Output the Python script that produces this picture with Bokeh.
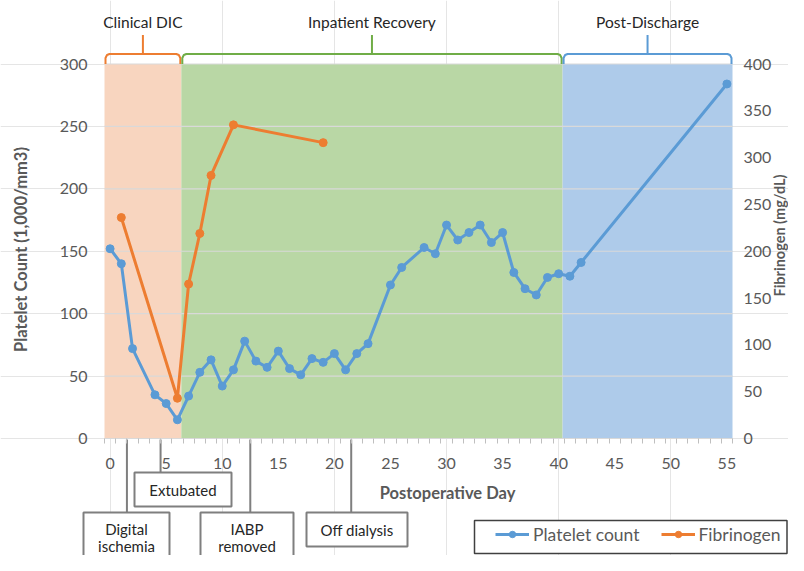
import math
from bokeh.plotting import figure
from bokeh.models import (Range1d, LinearAxis, FixedTicker, Legend, LegendItem)
from bokeh.core.properties import value
from bokeh.embed import file_html
from bokeh.resources import INLINE

# ---------------- data ----------------
plt_days = [0, 1, 2, 4, 5, 6, 7, 8, 9, 10, 11, 12, 13, 14, 15, 16, 17, 18, 19, 20, 21, 22, 23,
            25, 26, 28, 29, 30, 31, 32, 33, 34, 35, 36, 37, 38, 39, 40, 41, 42, 55]
plt_vals = [152, 140, 72, 35, 28, 15, 34, 53, 63, 42, 55, 78, 62, 57, 70, 56, 51, 64, 61, 68, 55, 68, 76,
            123, 137, 153, 148, 171, 159, 165, 171, 157, 165, 133, 120, 115, 129, 132, 130, 141, 284]
fib_days = [1, 6, 7, 8, 9, 11, 19]
fib_vals = [236, 43, 165, 219, 281, 335, 316]

phase_names = ["Clinical DIC", "Inpatient Recovery", "Post-Discharge"]
phase_start = [-0.5, 6.35, 40.35]
phase_end = [6.35, 40.35, 55.5]

event_names = [["Digital", "ischemia"], ["Extubated"], ["IABP", "removed"], ["Off dialysis"]]
event_days = [1.5, 4.5, 12.5, 21.5]

x_ticks = [0, 5, 10, 15, 20, 25, 30, 35, 40, 45, 50, 55]
x_minor = [d - 0.5 for d in range(0, 57)]
y_ticks = [0, 50, 100, 150, 200, 250, 300]
fib_ticks = [0, 50, 100, 150, 200, 250, 300, 350, 400]

# ---------------- styles / layout ----------------
FONT = "Lato"
C_BLUE = "#5b9bd5"
C_ORANGE = "#ed7d31"
C_GREEN = "#70ad47"
SHADE = ["#f8d5bf", "#b9d7a5", "#aecbea"]
BRACKET = [C_ORANGE, C_GREEN, C_BLUE]
GRAY_TXT = "#595959"
DARK_TXT = "#262626"
BOX_GRAY = "#7f7f7f"

W, H = 788, 555
X_LO, X_HI = -0.5, 55.5
Y_LO, Y_HI = 0, 300
PL, PR = 104.0, 732.0     # plot area left/right (px)
PT, PB = 63.5, 438.0      # plot area top/bottom (px from top)

sx = (PR - PL) / (X_HI - X_LO)
sy = (PB - PT) / (Y_HI - Y_LO)
x_start = X_LO - PL / sx
x_end = X_HI + (W - PR) / sx
y_start = Y_LO - (H - PB) / sy
y_end = Y_HI + PT / sy


def dx(px):
    return x_start + px / sx


def dy(py):
    return y_end - py / sy


def px_of(d):
    return (d - x_start) * sx


p = figure(width=W, height=H, output_backend="svg", toolbar_location=None,
           x_axis_location=None, y_axis_location=None,
           x_range=Range1d(x_start, x_end), y_range=Range1d(y_start, y_end),
           min_border=0, min_border_left=0, min_border_right=0,
           min_border_top=0, min_border_bottom=0)
p.outline_line_color = None
p.background_fill_color = "white"
p.border_fill_color = "white"
p.extra_y_ranges = {"fib": Range1d(y_start * 4 / 3, y_end * 4 / 3)}

# shaded phases
p.quad(left=phase_start, right=phase_end, bottom=[Y_LO] * 3, top=[Y_HI] * 3,
       fill_color=SHADE, line_color=None)

# grid lines
g = [t for t in y_ticks if t > 0]
p.segment(x0=[X_LO] * len(g), x1=[X_HI] * len(g), y0=g, y1=g,
          line_color="#d9d9d9", line_width=1.2)

# axes
xaxis = LinearAxis(fixed_location=0, bounds=(X_LO, X_HI),
                   ticker=FixedTicker(ticks=x_ticks, minor_ticks=x_minor))
xaxis.axis_line_color = "#d9d9d9"
xaxis.axis_line_width = 1.2
xaxis.major_tick_line_color = None
xaxis.major_tick_out = 0
xaxis.major_tick_in = 0
xaxis.minor_tick_line_color = "#bfbfbf"
xaxis.minor_tick_out = 5
xaxis.minor_tick_in = 0
xaxis.major_label_standoff = 14
xaxis.major_label_text_font = FONT
xaxis.major_label_text_font_size = "16px"
xaxis.major_label_text_color = GRAY_TXT
p.add_layout(xaxis, "below")

yaxis = LinearAxis(fixed_location=X_LO, bounds=(Y_LO, Y_HI),
                   ticker=FixedTicker(ticks=y_ticks, minor_ticks=[]))
yaxis.axis_line_color = None
yaxis.major_tick_line_color = None
yaxis.minor_tick_line_color = None
yaxis.major_tick_out = 0
yaxis.major_label_standoff = 17
yaxis.major_label_text_font = FONT
yaxis.major_label_text_font_size = "16px"
yaxis.major_label_text_color = GRAY_TXT
p.add_layout(yaxis, "left")

raxis = LinearAxis(fixed_location=X_HI, bounds=(0, 400), y_range_name="fib",
                   ticker=FixedTicker(ticks=fib_ticks, minor_ticks=[]))
raxis.axis_line_color = None
raxis.major_tick_line_color = None
raxis.minor_tick_line_color = None
raxis.major_tick_out = 0
raxis.major_label_standoff = 11
raxis.major_label_text_font = FONT
raxis.major_label_text_font_size = "16px"
raxis.major_label_text_color = GRAY_TXT
p.add_layout(raxis, "right")

# data series
l1 = p.line(plt_days, plt_vals, line_color=C_BLUE, line_width=3)
s1 = p.scatter(plt_days, plt_vals, size=8, fill_color=C_BLUE, line_color=C_BLUE)
l2 = p.line(fib_days, fib_vals, line_color=C_ORANGE, line_width=3, y_range_name="fib")
s2 = p.scatter(fib_days, fib_vals, size=8, fill_color=C_ORANGE, line_color=C_ORANGE,
               y_range_name="fib")

# axis titles
p.text(x=[dx(20)], y=[dy(249)], text=["Platelet Count (1,000/mm3)"], angle=math.pi / 2,
       text_align="center", text_baseline="middle", text_font=value(FONT),
       text_font_style="bold", text_font_size="16.5px", text_color=GRAY_TXT)
p.text(x=[dx(779)], y=[dy(235)], text=["Fibrinogen (mg/dL)"], angle=math.pi / 2,
       text_align="center", text_baseline="middle", text_font=value(FONT),
       text_font_style="bold", text_font_size="14.5px", text_color=GRAY_TXT)
p.text(x=[dx(447)], y=[dy(492)], text=["Postoperative Day"],
       text_align="center", text_baseline="middle", text_font=value(FONT),
       text_font_style="bold", text_font_size="16.5px", text_color=GRAY_TXT)

# phase brackets
for name, a, b, col in zip(phase_names, phase_start, phase_end, BRACKET):
    xl = px_of(a) + 1
    xr = px_of(b) - 1
    xc = (xl + xr) / 2
    hy = PT - 10
    pts_x = [xl, xl, xl + 1.5, xl + 4, xr - 4, xr - 1.5, xr, xr]
    pts_y = [PT, PT - 6, hy + 1, hy, hy, hy + 1, PT - 6, PT]
    p.line([dx(v) for v in pts_x], [dy(v) for v in pts_y], line_color=col, line_width=2)
    p.line([dx(xc), dx(xc)], [dy(hy), dy(PT - 29)], line_color=col, line_width=2)
    p.text(x=[dx(xc)], y=[dy(21)], text=[name], text_align="center", text_baseline="middle",
           text_font=value(FONT), text_font_size="15.5px", text_color=DARK_TXT)

# event callouts: (box left, box right, box top, box bottom, text centre x, first text y) in px
box_geo = [(83, 169, 512, 600, 126, 528),
           (134, 231, 472, 506, 182.5, 489),
           (200, 293, 512, 600, 246.5, 528),
           (306, 407, 512, 546, 356.5, 529)]
for lines, d, (bl, br, bt, bb, tx, ty) in zip(event_names, event_days, box_geo):
    p.line([d, d], [dy(PB + 1), dy(bt)], line_color=BOX_GRAY, line_width=2)
    p.quad(left=[dx(bl)], right=[dx(br)], top=[dy(bt)], bottom=[dy(bb)],
           fill_color="white", line_color=BOX_GRAY, line_width=2)
    p.text(x=[dx(tx)] * len(lines), y=[dy(ty + 17.5 * i) for i in range(len(lines))], text=lines,
           text_align="center", text_baseline="middle", text_font=value(FONT),
           text_font_size="15px", text_color=DARK_TXT)

# legend box + legend
p.quad(left=[dx(474)], right=[dx(786.5)], top=[dy(520)], bottom=[dy(553)],
       fill_color="white", line_color="#404040", line_width=1.5)
legend = Legend(items=[LegendItem(label="Platelet count", renderers=[l1, s1]),
                       LegendItem(label="Fibrinogen", renderers=[l2, s2])],
                orientation="horizontal", location=(495, 10.5), padding=0, margin=0,
                spacing=21, glyph_width=34, glyph_height=16, label_standoff=4,
                label_height=16, label_text_font=FONT, label_text_font_size="17.5px",
                label_text_color=GRAY_TXT, border_line_color=None,
                background_fill_alpha=0)
p.add_layout(legend)

open("out.html", "w").write(file_html(p, INLINE))
